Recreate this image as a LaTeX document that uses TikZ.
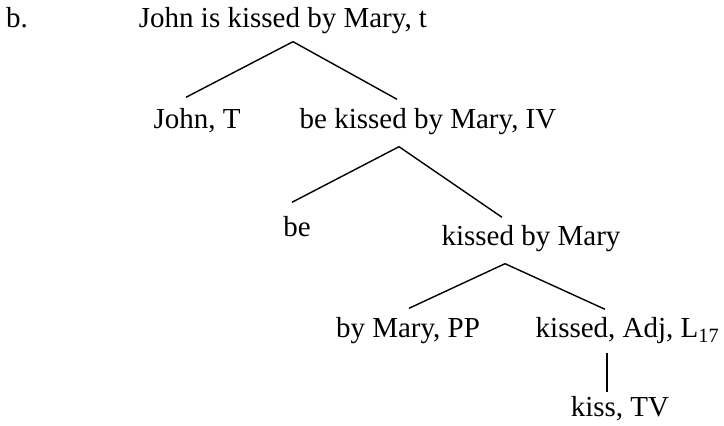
\documentclass[tikz,border=0pt]{standalone}
\usepackage{fontspec}
\setmainfont{Liberation Serif}
\begin{document}
\begin{tikzpicture}[x=0.5pt,y=-0.5pt,
    every node/.style={anchor=base,inner sep=0pt,text height=10pt,text depth=3pt,
      font=\fontsize{14.5}{17}\selectfont},
    line width=0.7pt]
      \useasboundingbox (0,0) rectangle (724,426);
      \draw
        (17,28) node (b){b.}
        (283,28) node (s){John is kissed by Mary, t}
        (197,129) node (jt){John, T}
        (428,129) node (iv){be kissed by Mary, IV}
        (297,237) node (be){be}
        (531,246) node (kbm){kissed by Mary}
        (408,338) node (pp){by Mary, PP}
        (535,338) node[anchor=base west] (adj){kissed, Adj, L\textsubscript{17}}
        (620,417) node (tv){kiss, TV};
      \coordinate (sf) at ([shift={(10,7)}]s.south);
      \coordinate (ivf) at ([shift={(-29,11)}]iv.south);
      \coordinate (kbmf) at ([shift={(-26,11)}]kbm.south);
      \begin{scope}[-]
        \draw (sf) to ([shift={(-11,-11)}]jt.north);
        \draw (sf) to ([shift={(-31,-9)}]iv.north);
        \draw (ivf) to ([shift={(-5,-14)}]be.north);
        \draw (ivf) to ([shift={(-29,-8)}]kbm.north);
        \draw (kbmf) to ([shift={(1,-9)}]pp.north);
        \draw (kbmf) to ([shift={(70,-8)}]adj.north west);
        \draw ([shift={(72,8)}]adj.south west) to ([shift={(-13,-4)}]tv.north);
      \end{scope}
    \end{tikzpicture}
\end{document}
